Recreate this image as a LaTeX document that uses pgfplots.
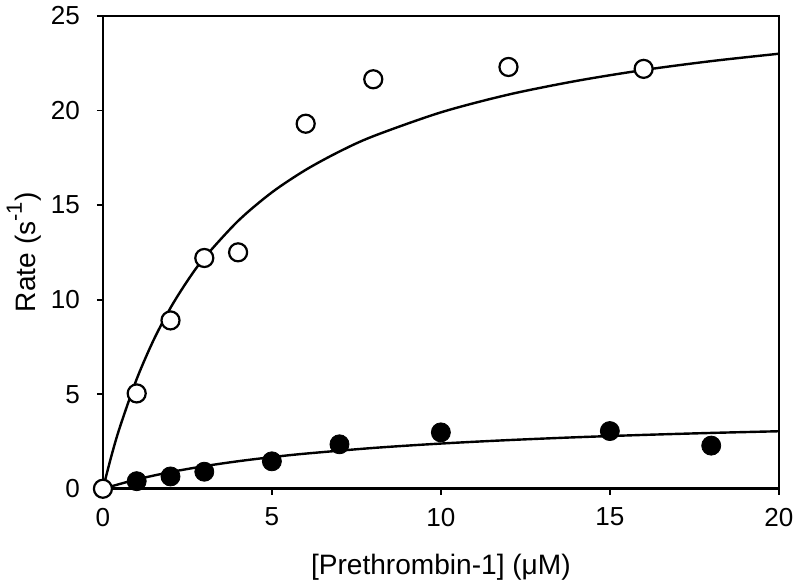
\documentclass[border=0pt]{standalone}
\usepackage{fontspec}
\setmainfont{Liberation Sans}
\usepackage{pgfplots}
\pgfplotsset{compat=1.18}
\begin{document}
\begin{tikzpicture}
\begin{axis}[
  scale only axis,
  width=337pt, height=235.75pt,
  xmin=0, xmax=20, ymin=0, ymax=25,
  xtick={0,5,10,15,20}, ytick={0,5,10,15,20,25},
  tick align=outside, tick pos=left,
  major tick length=3pt,
  axis line style={line width=1.3pt},
  every tick/.style={black, line width=0.9pt},
  /pgf/number format/assume math mode=true,
  tick label style={font=\fontsize{13}{15}\selectfont},
  xticklabel style={yshift=-3pt},
  yticklabel style={xshift=-5pt},
  label style={font=\fontsize{14}{17}\selectfont},
  xlabel={[Prethrombin-1] (μM)},
  ylabel={Rate (s\raisebox{0.9ex}{\fontsize{11}{13}\selectfont -1})},
  xlabel style={yshift=-7pt},
  ylabel style={yshift=-2pt},
  clip=false,
]
% fitted curves
\addplot[black, line width=1.2pt, smooth, no markers] coordinates {
 (0,0) (0.25,1.725) (0.5,3.245) (1,5.80) (1.5,7.863) (2,9.565) (2.5,10.99) (3,12.21)
 (4,14.16) (5,15.67) (6,16.86) (7,17.83) (8,18.64) (10,19.90) (12,20.84) (14,21.56)
 (16,22.14) (18,22.61) (20,23.00)};
\addplot[black, line width=1.2pt, smooth, no markers] coordinates {
 (0,0) (1,0.492) (2,0.88) (3,1.194) (4,1.454) (5,1.672) (6,1.858) (8,2.157) (10,2.389)
 (12,2.572) (14,2.722) (16,2.846) (18,2.951) (20,3.04)};
% filled points
\addplot[only marks, mark=*, mark size=4.75pt, mark options={fill=black, draw=black}] coordinates {
 (1,0.4) (2,0.65) (3,0.9) (5,1.45) (7,2.35) (10,2.98) (15,3.05) (18,2.28)};
% open points
\addplot[only marks, mark=*, mark size=4.5pt, mark options={fill=white, draw=black, line width=1.1pt}] coordinates {
 (0,0) (1,5.04) (2,8.9) (3,12.2) (4,12.5) (6,19.3) (8,21.65) (12,22.3) (16,22.2)};
\end{axis}
\end{tikzpicture}
\end{document}
